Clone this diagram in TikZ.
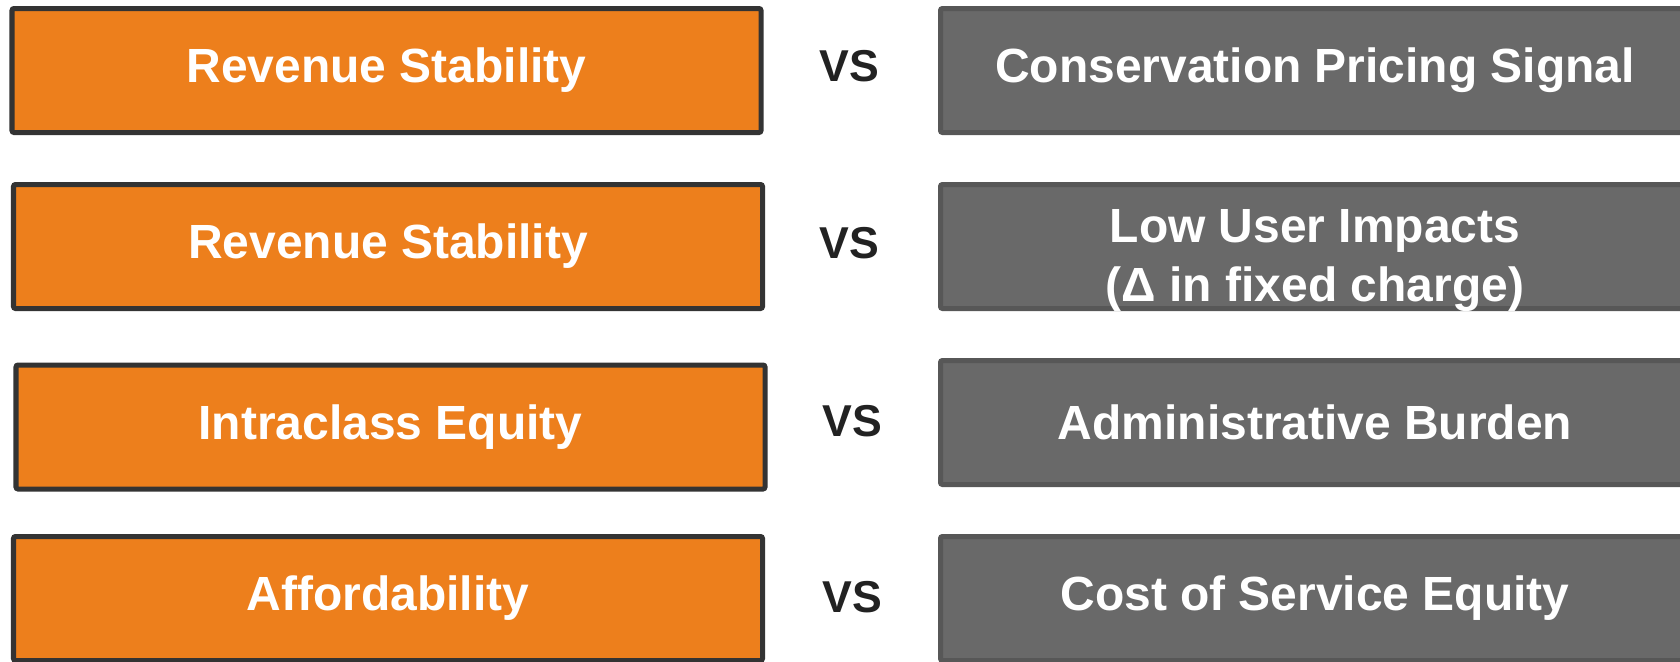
\documentclass[tikz,border=0pt]{standalone}
\usepackage{fontspec}
\setmainfont{Liberation Sans}
\usepackage{xcolor}
\usepackage{tikz}
\usetikzlibrary{positioning}

\definecolor{pborange}{HTML}{ED7F1C}
\definecolor{pbedge}{HTML}{333333}
\definecolor{pbgray}{HTML}{696969}
\definecolor{pbgrayedge}{HTML}{575757}
\definecolor{vsink}{HTML}{222222}

\begin{document}
\begin{tikzpicture}[
    probox/.style={draw=pbedge, fill=pborange, line width=0.1cm, rounded corners=0.04cm,
        minimum width=14.98cm, minimum height=2.48cm, text=white, align=center,
        font=\fontsize{27.3}{33.5}\selectfont\bfseries},
    conbox/.style={probox, draw=pbgrayedge, fill=pbgray},
    context/.style={text=white, align=center, font=\fontsize{27.3}{33.5}\selectfont\bfseries},
    vslabel/.style={text=vsink, font=\fontsize{25.4}{30}\selectfont\bfseries, inner sep=0pt}
]
        \useasboundingbox (0,0) rectangle (33.6,-13.22);
        \clip (0,0) rectangle (33.6,-13.22);

        % Left side
        \node[probox] (pro1) at (7.73,-1.41) {Revenue Stability};
        \node[probox] (pro2) at (7.76,-4.93) {Revenue Stability};
        \node[probox] (pro3) at (7.81,-8.54) {Intraclass Equity};
        \node[probox] (pro4) at (7.76,-11.97) {Affordability};

        % Right side
        \node[conbox] (con1) at (26.3,-1.41) {Conservation Pricing Signal};
        \node[conbox] (con2) at (26.3,-4.93) {};
        \node[context] (con2txt) at ([yshift=-0.28cm]con2.center) {Low User Impacts\\(Δ in fixed charge)};
        \node[conbox] (con3) at (26.3,-8.45) {Administrative Burden};
        \node[conbox] (con4) at (26.3,-11.97) {Cost of Service Equity};

        % VS labels
        \foreach \i/\x/\y in {1/16.99/-1.32, 2/16.99/-4.86, 3/17.04/-8.43, 4/17.04/-11.95} {
            \node[vslabel] (vs\i) at (\x,\y) {VS};
        }
    \end{tikzpicture}
\end{document}
